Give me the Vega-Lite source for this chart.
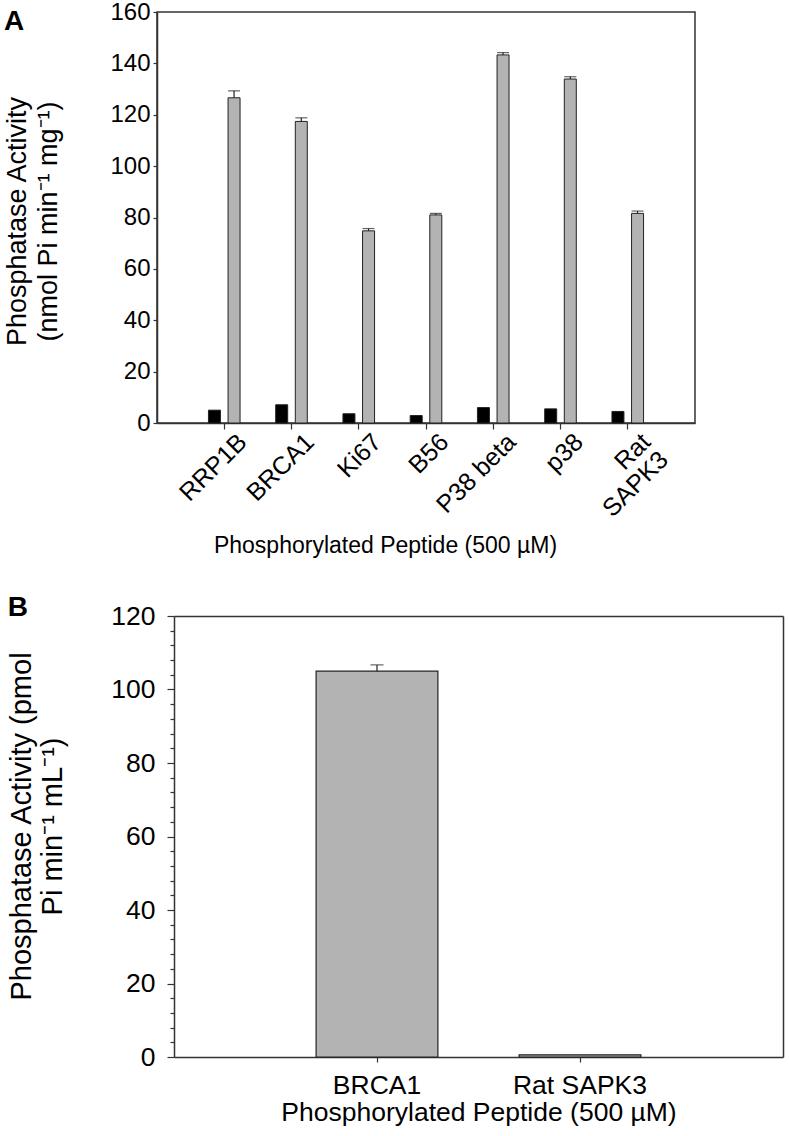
{
  "$schema": "https://vega.github.io/schema/vega-lite/v6.json",
  "padding": {"left": 3, "top": -1, "right": 5, "bottom": 5},
  "spacing": 35,
  "columns": 1,
  "align": "none",
  "config": {
    "font": "Liberation Sans",
    "view": {"stroke": "#333333", "strokeWidth": 1.5},
    "axis": {"domainColor": "#333333", "tickColor": "#333333", "labelColor": "#000000", "titleColor": "#000000", "titleFontWeight": "normal", "grid": false, "domainWidth": 1.5, "tickWidth": 1.2}
  },
  "concat": [
    {
      "width": 538,
      "height": 411,
      "title": {"text": "A", "anchor": "start", "frame": "bounds", "fontSize": 28, "fontWeight": "bold", "offset": -36, "color": "#000000"},
      "data": {"values": [
        {"peptide": "RRP1B", "series": "Control", "value": 5.0, "upper": null},
        {"peptide": "RRP1B", "series": "Enzyme", "value": 126.6, "upper": 129.3},
        {"peptide": "BRCA1", "series": "Control", "value": 7.1, "upper": null},
        {"peptide": "BRCA1", "series": "Enzyme", "value": 117.4, "upper": 118.8},
        {"peptide": "Ki67", "series": "Control", "value": 3.6, "upper": null},
        {"peptide": "Ki67", "series": "Enzyme", "value": 74.8, "upper": 75.7},
        {"peptide": "B56", "series": "Control", "value": 2.9, "upper": null},
        {"peptide": "B56", "series": "Enzyme", "value": 81.0, "upper": 81.6},
        {"peptide": "P38 beta", "series": "Control", "value": 6.0, "upper": null},
        {"peptide": "P38 beta", "series": "Enzyme", "value": 143.3, "upper": 144.2},
        {"peptide": "p38", "series": "Control", "value": 5.5, "upper": null},
        {"peptide": "p38", "series": "Enzyme", "value": 133.9, "upper": 134.8},
        {"peptide": "Rat SAPK3", "series": "Control", "value": 4.5, "upper": null},
        {"peptide": "Rat SAPK3", "series": "Enzyme", "value": 81.6, "upper": 82.5}
      ]},
      "encoding": {
        "x": {
          "field": "peptide", "type": "nominal", "sort": null,
          "scale": {"paddingInner": 0.53, "paddingOuter": 0.765},
          "axis": {
            "labelAngle": -45, "labelAlign": "right", "labelBaseline": "top", "labelFontSize": 25, "tickSize": 6, "labelPadding": 0, "labelOffset": 10,
            "labelExpr": "datum.value == 'Rat SAPK3' ? ['Rat', 'SAPK3'] : datum.label",
            "labelLineHeight": 25,
            "title": "Phosphorylated Peptide (500 µM)", "titleFontSize": 23, "titlePadding": 13, "titleX": 228
          }
        },
        "xOffset": {"field": "series", "type": "nominal", "scale": {"domain": ["Control", "Enzyme"], "paddingInner": 0.388, "paddingOuter": 0}}
      },
      "layer": [
        {
          "mark": {"type": "bar", "stroke": "#222222", "strokeWidth": 1},
          "encoding": {
            "y": {"field": "value", "type": "quantitative", "scale": {"domain": [0, 160]},
              "axis": {"values": [0, 20, 40, 60, 80, 100, 120, 140, 160], "tickCount": 20, "labelFontSize": 24, "tickSize": 4, "labelPadding": 3,
                "title": ["Phosphatase Activity", "(nmol Pi min⁻¹ mg⁻¹)"], "titleFontSize": 27, "titleLineHeight": 31, "titlePadding": 47, "titleY": 209}},
            "color": {"field": "series", "type": "nominal", "scale": {"domain": ["Control", "Enzyme"], "range": ["#000000", "#b3b3b3"]}, "legend": null}
          }
        },
        {
          "transform": [{"filter": "datum.upper != null"}],
          "mark": {"type": "rule", "color": "#222222", "strokeWidth": 1.2},
          "encoding": {"y": {"field": "value", "type": "quantitative"}, "y2": {"field": "upper"}}
        },
        {
          "transform": [{"filter": "datum.upper != null"}],
          "mark": {"type": "tick", "color": "#222222", "thickness": 1.2, "size": 12},
          "encoding": {"y": {"field": "upper", "type": "quantitative"}}
        }
      ]
    },
    {
      "width": 626,
      "height": 441,
      "view": {"stroke": null},
      "title": {"text": "B", "anchor": "start", "frame": "bounds", "fontSize": 28, "fontWeight": "bold", "offset": -19, "color": "#000000"},
      "data": {"values": [
        {"peptide": "BRCA1", "value": 105.0, "upper": 106.7},
        {"peptide": "Rat SAPK3", "value": 0.6, "upper": null}
      ]},
      "resolve": {"axis": {"x": "independent", "y": "independent"}},
      "layer": [
        {
          "mark": {"type": "bar", "color": "#b3b3b3", "stroke": "#222222", "strokeWidth": 1.2},
          "encoding": {
            "x": {
              "field": "peptide", "type": "nominal", "sort": null,
              "scale": {"range": [17, 626], "paddingInner": 0.4, "paddingOuter": 0.7},
              "axis": {
                "labelAngle": 0, "labelFontSize": 26.5, "tickSize": 5, "labelPadding": 10,
                "title": "Phosphorylated Peptide (500 µM)", "titleFontSize": 26.5, "titlePadding": 1
              }
            },
            "y": {"field": "value", "type": "quantitative", "scale": {"domain": [0, 120]},
              "axis": {
                "offset": -17,
                "values": [0, 4, 8, 12, 16, 20, 24, 28, 32, 36, 40, 44, 48, 52, 56, 60, 64, 68, 72, 76, 80, 84, 88, 92, 96, 100, 104, 108, 112, 116, 120],
                "tickCount": 100,
                "labelExpr": "datum.value % 20 == 0 ? datum.label : ''",
                "labelOverlap": false,
                "tickSize": {"condition": {"test": "datum.value % 20 == 0", "value": 7}, "value": 4},
                "labelFontSize": 26.5, "labelPadding": 12,
                "title": ["Phosphatase Activity (pmol", "Pi min⁻¹ mL⁻¹)"], "titleFontSize": 29, "titleLineHeight": 31, "titlePadding": 43, "titleY": 210}}
          }
        },
        {
          "transform": [{"filter": "datum.upper != null"}],
          "mark": {"type": "rule", "color": "#222222", "strokeWidth": 1.2},
          "encoding": {
            "x": {"field": "peptide", "type": "nominal", "sort": null, "axis": null},
            "y": {"field": "value", "type": "quantitative", "scale": {"domain": [0, 120]}, "axis": null},
            "y2": {"field": "upper"}
          }
        },
        {
          "transform": [{"filter": "datum.upper != null"}],
          "mark": {"type": "tick", "color": "#222222", "thickness": 1.2, "size": 13},
          "encoding": {
            "x": {"field": "peptide", "type": "nominal", "sort": null, "axis": {"orient": "top", "labels": false, "ticks": false, "title": null, "domain": true}},
            "y": {"field": "upper", "type": "quantitative", "scale": {"domain": [0, 120]}, "axis": {"orient": "right", "labels": false, "ticks": false, "title": null, "domain": true}}
          }
        }
      ]
    }
  ]
}
